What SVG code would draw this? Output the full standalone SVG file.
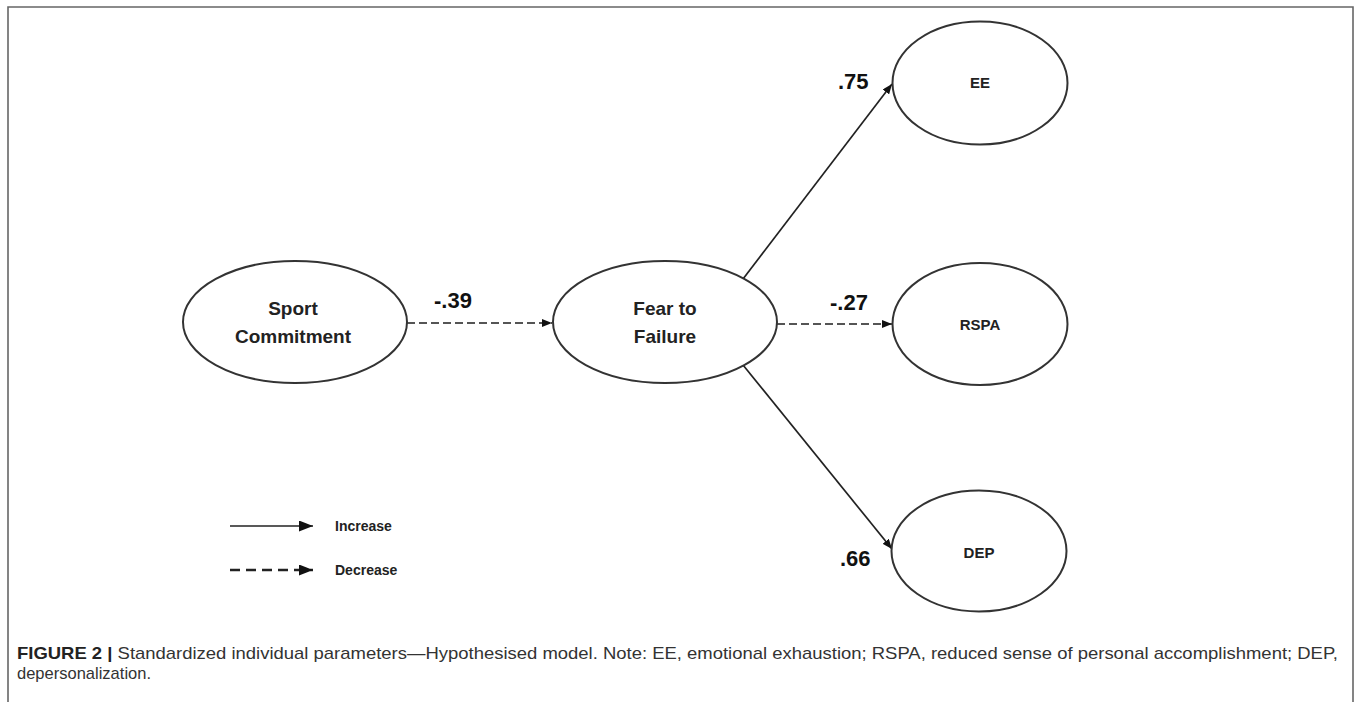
<svg xmlns="http://www.w3.org/2000/svg" width="1360" height="702" viewBox="0 0 1360 702">
<defs>
<style>
.node ellipse{fill:#fff;stroke:#333;stroke-width:2}
.nt{font-family:"Liberation Sans",Arial,sans-serif;font-weight:bold;fill:#222;text-anchor:middle}
.lbl{font-family:"Liberation Sans",Arial,sans-serif;font-weight:bold;fill:#111;font-size:22px}
.solid{stroke:#222;stroke-width:1.7;fill:none}
.dash{stroke:#555;stroke-width:2.2;fill:none;stroke-dasharray:8 4}
.leg{font-family:"Liberation Sans",Arial,sans-serif;font-weight:bold;font-size:14px;fill:#222}
.cap{font-family:"Liberation Sans",Arial,sans-serif;font-size:17px;fill:#333}
</style>
<marker id="ah" markerUnits="userSpaceOnUse" markerWidth="10" markerHeight="8" refX="10" refY="4" orient="auto">
<path d="M0,0 L10,4 L0,8 Z" fill="#111"/>
</marker>
<marker id="ahL" markerUnits="userSpaceOnUse" markerWidth="14" markerHeight="11" refX="14" refY="5.5" orient="auto">
<path d="M0,0 L14,5.5 L0,11 Z" fill="#111"/>
</marker>
</defs>
<rect width="1360" height="702" fill="#fff"/>
<path d="M8,702 V7 H1353 V702" fill="none" stroke="#666" stroke-width="1.6"/>

<g id="connectors">
<line class="dash" x1="407" y1="323" x2="552" y2="323" marker-end="url(#ah)"/>
<line class="dash" x1="777" y1="324" x2="892" y2="324" marker-end="url(#ah)"/>
<line class="solid" x1="743" y1="279" x2="892" y2="84" marker-end="url(#ah)"/>
<line class="solid" x1="743" y1="365" x2="892" y2="549" marker-end="url(#ah)"/>
<text class="lbl" x="434" y="308">-.39</text>
<text class="lbl" x="830" y="310">-.27</text>
<text class="lbl" x="838" y="89">.75</text>
<text class="lbl" x="840" y="566">.66</text>
</g>

<g id="sport" class="node">
<ellipse cx="295" cy="322" rx="112" ry="61"/>
<text class="nt" x="293" y="315" font-size="19">Sport</text>
<text class="nt" x="293" y="343" font-size="19">Commitment</text>
</g>
<g id="fear" class="node">
<ellipse cx="665" cy="322" rx="112" ry="61"/>
<text class="nt" x="665" y="315" font-size="19">Fear to</text>
<text class="nt" x="665" y="343" font-size="19">Failure</text>
</g>
<g id="ee" class="node">
<ellipse cx="980" cy="83" rx="87.5" ry="61.5"/>
<text class="nt" x="980" y="88" font-size="15">EE</text>
</g>
<g id="rspa" class="node">
<ellipse cx="980" cy="324" rx="87.5" ry="61"/>
<text class="nt" x="980" y="330" font-size="15">RSPA</text>
</g>
<g id="dep" class="node">
<ellipse cx="979" cy="551" rx="87.5" ry="60.5"/>
<text class="nt" x="979" y="558" font-size="15">DEP</text>
</g>

<g id="legend">
<line class="solid" x1="230" y1="526" x2="313" y2="526" stroke-width="2" marker-end="url(#ahL)"/>
<line x1="230" y1="570" x2="313" y2="570" stroke="#222" stroke-width="2.4" stroke-dasharray="10 6" marker-end="url(#ahL)"/>
<text class="leg" x="335" y="531">Increase</text>
<text class="leg" x="335" y="575">Decrease</text>
</g>

<g id="caption">
<text class="cap" x="17" y="659" textLength="1321" lengthAdjust="spacingAndGlyphs"><tspan font-weight="bold" fill="#222">FIGURE 2 | </tspan>Standardized individual parameters—Hypothesised model. Note: EE, emotional exhaustion; RSPA, reduced sense of personal accomplishment; DEP,</text>
<text class="cap" x="17" y="679" textLength="134" lengthAdjust="spacingAndGlyphs">depersonalization.</text>
</g>
</svg>
